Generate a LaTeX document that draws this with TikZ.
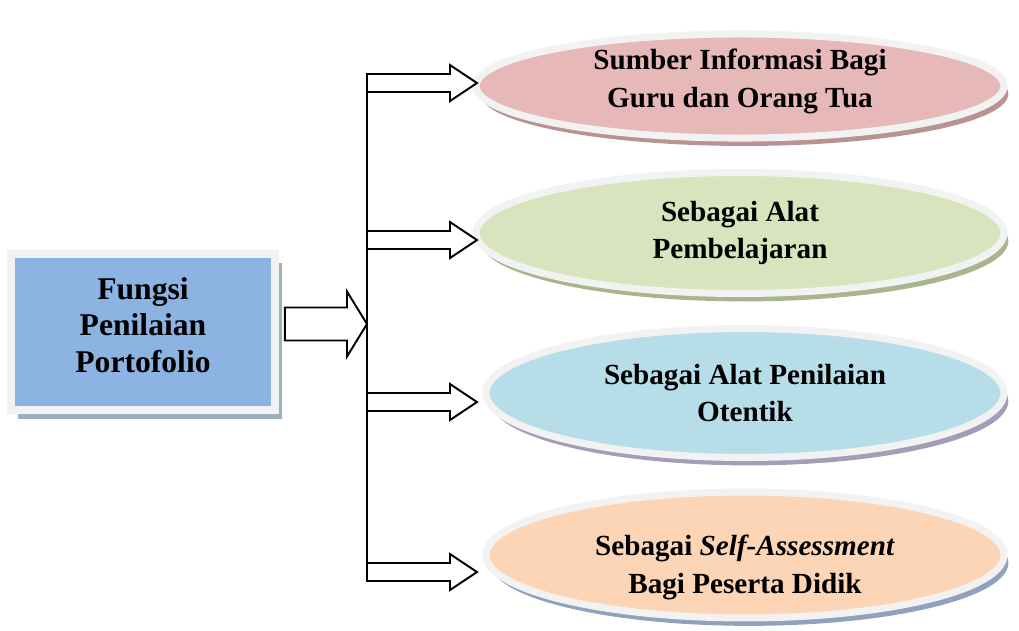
\documentclass[tikz,border=0pt]{standalone}
\usepackage{fontspec}
\setmainfont{Liberation Serif}
\usetikzlibrary{shapes.geometric,shadows,calc,positioning}

\definecolor{framegray}{HTML}{F2F2F2}
\definecolor{boxblue}{HTML}{8DB3E2}
\definecolor{boxshade}{HTML}{9BB2BE}
\definecolor{pinkfill}{HTML}{E6B9B8}
\definecolor{pinkshade}{HTML}{B99392}
\definecolor{greenfill}{HTML}{D7E4BD}
\definecolor{greenshade}{HTML}{A9B58F}
\definecolor{bluefill}{HTML}{B7DEE8}
\definecolor{blueshade}{HTML}{A49DB8}
\definecolor{peachfill}{HTML}{FBD5B5}
\definecolor{peachshade}{HTML}{8FA1BC}

\newcommand{\blockarrow}[5]{%
  \draw[barr] ($(#1)+(0,-#3)$) -- ($(#2)+(-#5,-#3)$) -- ($(#2)+(-#5,-#4)$) -- (#2)
    -- ($(#2)+(-#5,#4)$) -- ($(#2)+(-#5,#3)$) -- ($(#1)+(0,#3)$) -- cycle;}

\begin{document}
\begin{tikzpicture}[x=0.02cm, y=-0.02cm,
    txt/.style={align=center, font=\bfseries\fontsize{16.6}{21.5}\selectfont, inner sep=0pt},
    mainbox/.style={txt, font=\bfseries\fontsize{18}{21}\selectfont, rectangle, draw=framegray,
        line width=4.5pt, fill=boxblue, minimum width=5.28cm, minimum height=3.12cm,
        drop shadow={shadow xshift=4pt, shadow yshift=-5pt, fill=boxshade, opacity=1}},
    ell/.style={txt, ellipse, draw=framegray, line width=4pt, fill=#1fill,
        drop shadow={shadow xshift=2.5pt, shadow yshift=-4.5pt, fill=#1shade, opacity=1}},
    barr/.style={draw=black, fill=white, line width=1.1pt, line join=miter},
    spine/.style={draw=black, line width=1.1pt}
]
\useasboundingbox (0,0) rectangle (1019,630);

\node[mainbox, text depth=8pt] (fungsi) at (143,332) {Fungsi\\Penilaian\\Portofolio};

\node[ell=pink, minimum width=10.56cm, minimum height=1.86cm, text depth=8.7pt] (sumber) at (740,86)
    {Sumber Informasi Bagi\\Guru dan Orang Tua};
\node[ell=green, minimum width=10.56cm, minimum height=2.42cm] (alat) at (740,233)
    {Sebagai Alat\\Pembelajaran};
\node[ell=blue, minimum width=10.36cm, minimum height=2.58cm] (otentik) at (745,393)
    {Sebagai Alat Penilaian\\Otentik};
\node[ell=peach, minimum width=10.36cm, minimum height=2.14cm, text height=47pt] (self) at (745,555)
    {Sebagai \textit{Self-Assessment}\\Bagi Peserta Didik};

\coordinate (top) at (367,78);
\coordinate (bot) at (367,570);
\coordinate (hub) at (367,324);
\coordinate (a1) at (367,83);
\coordinate (a2) at (367,240);
\coordinate (a3) at (367,402);
\coordinate (a4) at (367,572);

\draw[spine] (top) -- (bot);
\blockarrow{$(fungsi.east |- hub)+(6,0)$}{hub}{16.5}{32.5}{20}
\blockarrow{a1}{$(a1)+(110,0)$}{9}{18}{27}
\blockarrow{a2}{$(a2)+(110,0)$}{9}{18}{27}
\blockarrow{a3}{$(a3)+(110,0)$}{9}{18}{27}
\blockarrow{a4}{$(a4)+(110,0)$}{9}{18}{27}
\end{tikzpicture}
\end{document}
